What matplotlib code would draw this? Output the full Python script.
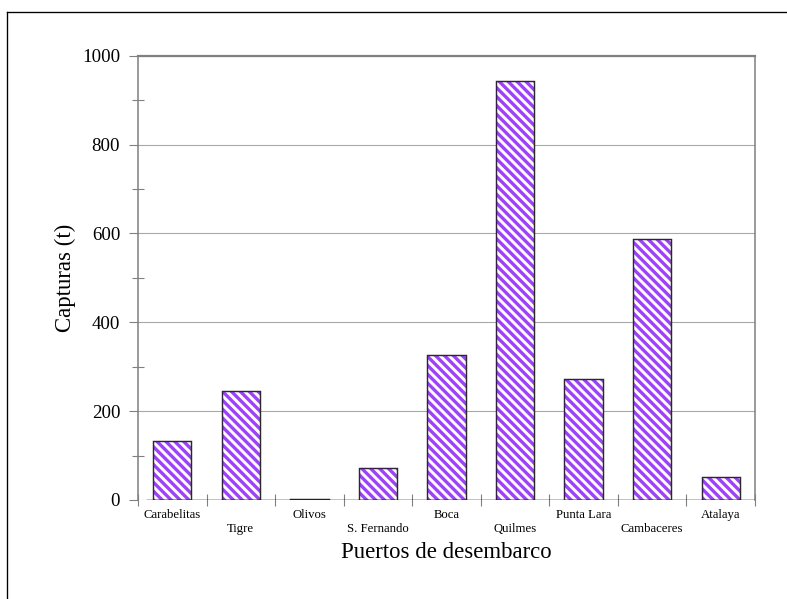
import numpy as np
import matplotlib
matplotlib.use("Agg")
import matplotlib.pyplot as plt
from matplotlib.lines import Line2D
from matplotlib.ticker import MultipleLocator

puertos = ["Carabelitas", "Tigre", "Olivos", "S. Fernando", "Boca",
           "Quilmes", "Punta Lara", "Cambaceres", "Atalaya"]
capturas = [133, 246, 2, 71, 326, 942, 272, 587, 51]

plt.rcParams['font.family'] = 'Liberation Serif'
plt.rcParams['hatch.linewidth'] = 3.0

dpi = 80
fig = plt.figure(figsize=(787 / dpi, 599 / dpi), dpi=dpi, facecolor='white')
ax = fig.add_axes([138 / 787, 1 - 500 / 599, 617 / 787, 444.3 / 599])

x = np.arange(len(puertos))
# hatch takes the edge colour, so fill and outline are drawn separately
ax.bar(x, capturas, width=0.56, color='white', edgecolor='#a040ff',
       linewidth=0, hatch='\\\\\\', zorder=3)
ax.bar(x, capturas, width=0.56, color='none', edgecolor='#2a2a2a',
       linewidth=1.3, zorder=3)

ax.set_xlim(-0.5, len(puertos) - 0.5)
ax.set_ylim(0, 1000)

# y axis
ax.yaxis.set_major_locator(MultipleLocator(200))
ax.yaxis.set_minor_locator(MultipleLocator(100))
ax.tick_params(axis='y', which='major', direction='out', length=8,
               width=1, color='#808080', labelsize=17, pad=8)
ax.tick_params(axis='y', which='minor', direction='inout', length=10,
               width=1, color='#808080')
ax.grid(axis='y', which='major', color='#a8a8a8', linewidth=1, zorder=0)

# x axis: labels at centres, ticks at boundaries
labels = [p if i % 2 == 0 else "\n" + p for i, p in enumerate(puertos)]
ax.set_xticks(x)
ax.set_xticklabels(labels, fontsize=11.5, linespacing=1.2)
ax.set_xticks(np.arange(-0.5, len(puertos)), minor=True)
ax.tick_params(axis='x', which='major', length=0, pad=8)
ax.tick_params(axis='x', which='minor', direction='inout', length=11.5,
               width=1, color='#808080')

for side in ['left', 'right', 'top']:
    ax.spines[side].set_color('#808080')
    ax.spines[side].set_linewidth(1.4)
ax.spines['top'].set_linewidth(2)
ax.spines['bottom'].set_visible(False)
ax.axhline(0, xmin=0.014, color='black', linewidth=1.3, zorder=4)

ax.set_ylabel("Capturas (t)", fontsize=20.5)
ax.yaxis.set_label_coords(-0.1, 0.5)
ax.set_xlabel("Puertos de desembarco", fontsize=20.5)
ax.xaxis.set_label_coords(0.5, -0.095)

# outer frame
fig.add_artist(Line2D([6.7 / 787, 1], [1 - 12 / 599, 1 - 12 / 599],
                      transform=fig.transFigure, color='black', linewidth=1.2))
fig.add_artist(Line2D([6.7 / 787, 6.7 / 787], [0, 1 - 12 / 599],
                      transform=fig.transFigure, color='black', linewidth=1.2))

fig.savefig("out.png", dpi=dpi)
